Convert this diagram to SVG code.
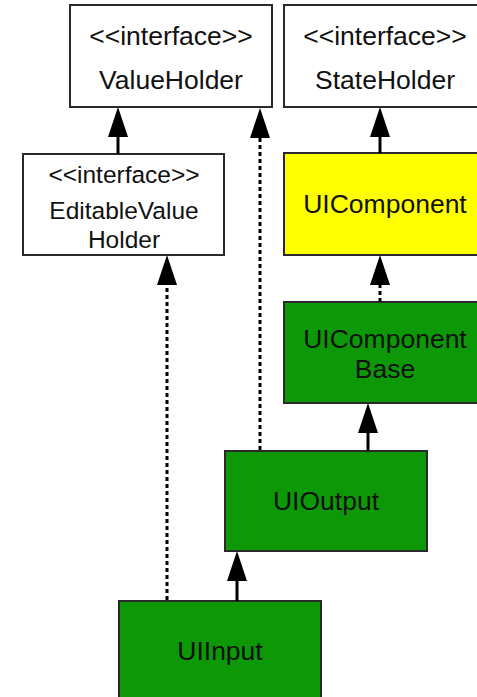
<svg xmlns="http://www.w3.org/2000/svg" width="477" height="697" viewBox="0 0 477 697">
<defs>
<style>
.box{stroke:#2a2a2a;stroke-width:2}
.iface{fill:#ffffff}
.yellow{fill:#ffff00}
.green{fill:#0c9807}
text{font-family:"Liberation Sans",Arial,Helvetica,sans-serif;font-size:26.5px;fill:#111;text-anchor:middle}
.small{font-size:24.5px}
.solid{stroke:#000;stroke-width:3;fill:none}
.dashed{stroke:#000;stroke-width:3;fill:none;stroke-dasharray:4 3}
</style>
<marker id="tri" markerUnits="userSpaceOnUse" viewBox="0 0 30 20" refX="0" refY="10" markerWidth="30" markerHeight="20" orient="auto">
<path d="M0,0 L30,10 L0,20 Z" fill="#000"/>
</marker>
</defs>
<rect width="477" height="697" fill="#ffffff"/>
<g id="ValueHolder">
<rect class="box iface" x="70" y="5" width="202" height="102"/>
<text x="171" y="45">&lt;&lt;interface&gt;&gt;</text>
<text x="171" y="89">ValueHolder</text>
</g>
<g id="StateHolder">
<rect class="box iface" x="284" y="5" width="202" height="102"/>
<text x="385" y="45">&lt;&lt;interface&gt;&gt;</text>
<text x="385" y="89">StateHolder</text>
</g>
<g id="EditableValueHolder">
<rect class="box iface" x="23" y="154" width="201" height="101"/>
<text class="small" x="124" y="183">&lt;&lt;interface&gt;&gt;</text>
<text class="small" x="124" y="219">EditableValue</text>
<text class="small" x="124" y="248">Holder</text>
</g>
<g id="UIComponent">
<rect class="box yellow" x="284" y="153" width="202" height="102"/>
<text x="385" y="213">UIComponent</text>
</g>
<g id="UIComponentBase">
<rect class="box green" x="284" y="302" width="202" height="101"/>
<text x="385" y="348">UIComponent</text>
<text x="385" y="378">Base</text>
</g>
<g id="UIOutput">
<rect class="box green" x="225" y="451" width="202" height="100"/>
<text x="326" y="510">UIOutput</text>
</g>
<g id="UIInput">
<rect class="box green" x="119" y="601" width="202" height="102"/>
<text x="220" y="660">UIInput</text>
</g>
<g id="connectors">
<line class="solid" x1="118" y1="154" x2="118" y2="137" marker-end="url(#tri)"/>
<line class="dashed" x1="260" y1="450" x2="260" y2="138" marker-end="url(#tri)"/>
<line class="solid" x1="380" y1="153" x2="380" y2="137" marker-end="url(#tri)"/>
<line class="dashed" x1="380" y1="302" x2="380" y2="285" marker-end="url(#tri)"/>
<line class="solid" x1="368" y1="451" x2="368" y2="433" marker-end="url(#tri)"/>
<line class="solid" x1="237" y1="601" x2="237" y2="581" marker-end="url(#tri)"/>
<line class="dashed" x1="167" y1="600" x2="167" y2="285" marker-end="url(#tri)"/>
</g>
</svg>
